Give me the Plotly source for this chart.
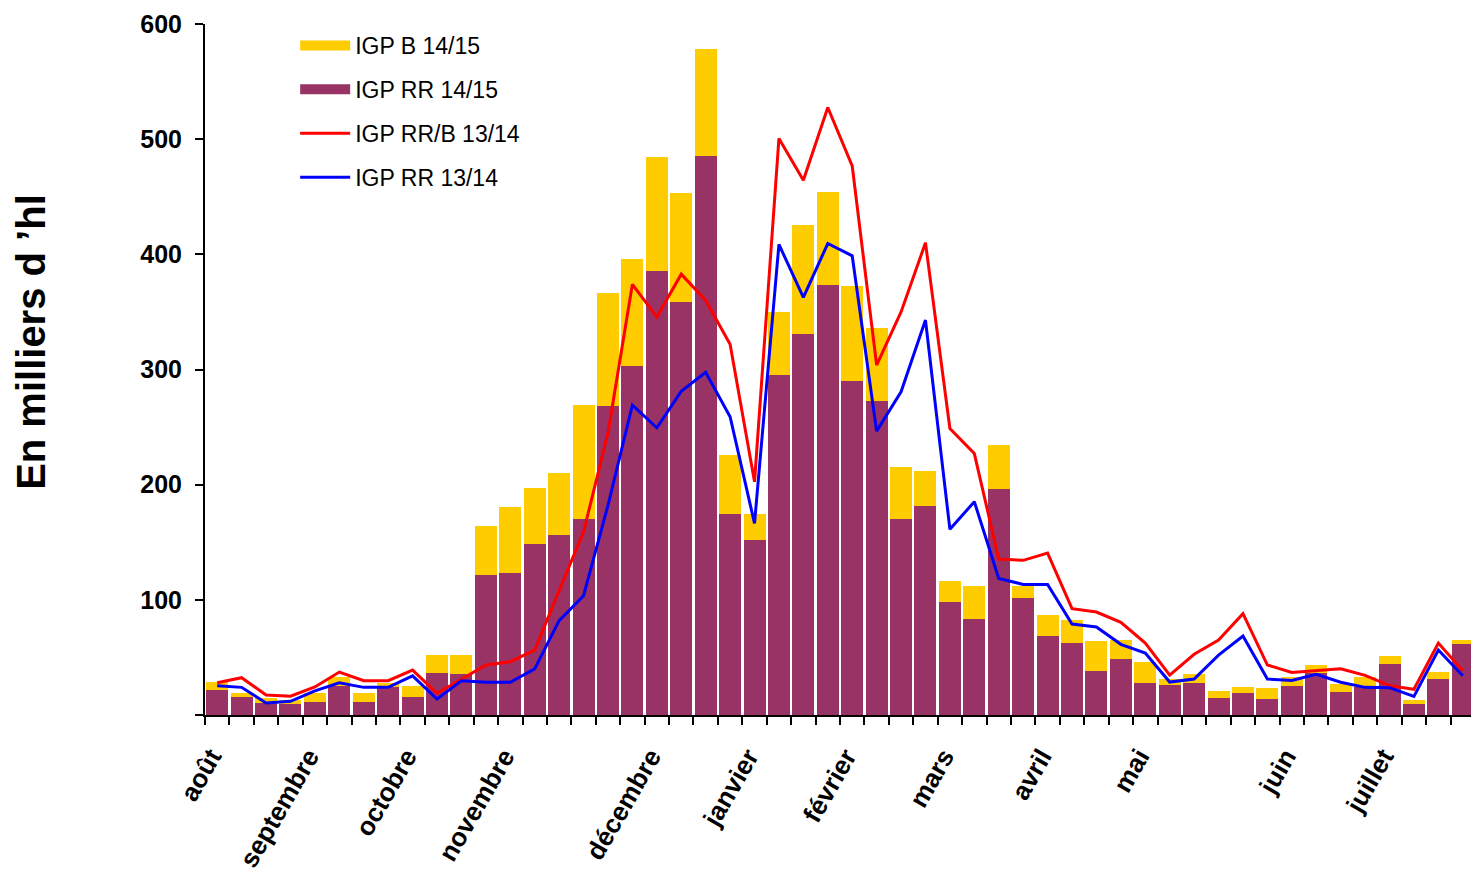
import plotly.graph_objects as go

# ---- data (milliers d'hl), one value per week, Aug -> Jul ----
weeks = list(range(52))

igp_rr_1415 = [22.0, 15.6, 10.5, 9.5, 11.3, 25.5, 11.3, 24.6, 15.6, 36.5,
               35.6, 121.5, 123.0, 148.5, 156.0, 170.0, 268.0, 303.0, 385.4, 358.5,
               485.0, 174.5, 152.0, 295.0, 330.7, 373.3, 290.0, 272.6, 170.0, 181.4,
               98.0, 83.0, 196.0, 101.8, 68.6, 62.5, 38.2, 48.6, 27.8, 26.0,
               27.8, 14.8, 19.0, 13.9, 25.2, 36.5, 20.0, 24.0, 44.3, 9.5,
               31.0, 61.6]

igp_b_1415 = [6.6, 3.4, 4.2, 3.5, 7.7, 7.5, 7.7, 3.1, 9.4, 15.5,
              16.4, 42.5, 57.5, 48.5, 54.0, 99.0, 98.3, 92.8, 99.0, 94.5,
              93.0, 51.2, 22.5, 54.8, 94.6, 80.7, 82.4, 63.4, 45.3, 30.4,
              18.3, 29.0, 38.4, 10.2, 18.2, 20.0, 26.0, 16.4, 18.2, 5.0,
              7.8, 6.0, 5.3, 9.5, 7.8, 6.9, 7.0, 9.0, 6.9, 3.5,
              6.3, 3.4]

igp_rrb_1314 = [28.0, 32.4, 17.4, 16.3, 24.3, 37.3, 29.8, 29.8, 39.0, 18.8,
                31.0, 43.4, 46.3, 56.4, 108.0, 159.0, 245.0, 374.0, 345.5, 382.8,
                360.0, 322.0, 202.5, 500.6, 464.4, 527.5, 476.8, 303.8, 350.0, 410.0,
                248.8, 227.0, 135.4, 134.3, 140.6, 92.3, 89.4, 80.4, 62.5, 34.7,
                52.7, 65.0, 88.0, 43.4, 37.0, 38.8, 40.2, 34.4, 25.5, 22.3,
                62.5, 38.5]

igp_rr_1314 = [25.5, 24.0, 10.4, 11.9, 21.0, 28.0, 24.0, 24.0, 34.0, 13.9,
               29.8, 28.4, 28.4, 40.0, 81.9, 103.6, 182.0, 269.0, 249.4, 281.0,
               297.5, 259.0, 166.4, 408.6, 362.6, 409.4, 398.7, 246.5, 280.7, 342.9,
               161.2, 185.2, 118.6, 113.4, 113.4, 79.0, 76.4, 61.4, 53.8, 28.6,
               31.2, 52.0, 68.6, 31.2, 30.0, 35.3, 28.4, 24.0, 23.7, 16.2,
               56.4, 34.1]

month_labels = ["août", "septembre", "octobre", "novembre", "décembre", "janvier",
                "février", "mars", "avril", "mai", "juin", "juillet"]
month_weeks = [0, 4, 8, 12, 18, 22, 26, 30, 34, 38, 44, 48]

y_ticks = [0, 100, 200, 300, 400, 500, 600]
y_tick_labels = ["", "100", "200", "300", "400", "500", "600"]

FONT = "Arial, 'Liberation Sans', sans-serif"
YELLOW = "#FFCC00"
PURPLE = "#993366"

fig = go.Figure()
fig.add_trace(go.Bar(x=weeks, y=igp_rr_1415, name="IGP RR 14/15",
                     marker=dict(color=PURPLE, line=dict(width=0)),
                     showlegend=False, legendgroup="g2"))
fig.add_trace(go.Bar(x=weeks, y=igp_b_1415, name="IGP B 14/15",
                     marker=dict(color=YELLOW, line=dict(width=0)),
                     showlegend=False, legendgroup="g1"))
fig.add_trace(go.Scatter(x=weeks, y=igp_rrb_1314, name="IGP RR/B 13/14", mode="lines",
                         line=dict(color="#FF0000", width=3),
                         legendrank=3, legendgroup="g3"))
fig.add_trace(go.Scatter(x=weeks, y=igp_rr_1314, name="IGP RR 13/14", mode="lines",
                         line=dict(color="#0000FF", width=3),
                         legendrank=4, legendgroup="g4"))
# legend swatches for the stacked bars (wide rectangles as in the original)
fig.add_trace(go.Scatter(x=[None], y=[None], name="IGP B 14/15", mode="lines",
                         line=dict(color=YELLOW, width=16),
                         legendrank=1, legendgroup="g1", hoverinfo="skip"))
fig.add_trace(go.Scatter(x=[None], y=[None], name="IGP RR 14/15", mode="lines",
                         line=dict(color=PURPLE, width=16),
                         legendrank=2, legendgroup="g2", hoverinfo="skip"))

fig.update_layout(
    width=1479, height=871,
    barmode="stack", bargap=0.1,
    plot_bgcolor="white", paper_bgcolor="white",
    margin=dict(l=197, r=12, t=16, b=164),
    font=dict(family=FONT, color="black"),
    legend=dict(x=0.071, y=1.0, xanchor="left", yanchor="top",
                font=dict(size=23, family=FONT), tracegroupgap=11,
                bgcolor="rgba(0,0,0,0)", itemwidth=50),
    xaxis=dict(range=[-0.5, 51.5], tickmode="array",
               tickvals=[w - 0.25 for w in month_weeks],
               ticktext=month_labels, tickangle=-60,
               tickfont=dict(size=26, family=FONT, weight="bold"),
               ticks="outside", ticklen=8, tickcolor="rgba(0,0,0,0)",
               ticklabelstandoff=6, automargin=False,
               minor=dict(tickmode="linear", tick0=-0.5, dtick=1, ticks="outside",
                          ticklen=8, tickcolor="black", tickwidth=1.5, showgrid=False),
               showline=True, linecolor="black", linewidth=2,
               showgrid=False, zeroline=False),
    yaxis=dict(range=[0, 600], tickmode="array", tickvals=y_ticks, ticktext=y_tick_labels,
               tickfont=dict(size=25, family=FONT, weight="bold"),
               ticks="outside", ticklen=8, tickcolor="black", tickwidth=1.5,
               ticklabelstandoff=8, automargin=False,
               showline=True, linecolor="black", linewidth=2,
               showgrid=False, zeroline=False),
    annotations=[dict(text="<b>En milliers d ’hl</b>", textangle=-90,
                      xref="paper", yref="paper", x=-0.137, y=0.54,
                      xanchor="center", yanchor="middle", showarrow=False,
                      font=dict(size=40, family=FONT, color="black"))],
)

fig.write_html("out.html")
